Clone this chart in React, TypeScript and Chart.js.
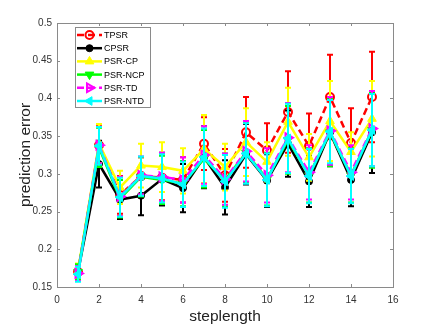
import React, { useEffect, useRef } from 'react';
import { Chart, registerables } from 'chart.js';
import { drawPoint } from 'chart.js/helpers';

Chart.register(...registerables);

// ---------- data ----------
const steps = [1, 2, 3, 4, 5, 6, 7, 8, 9, 10, 11, 12, 13, 14, 15];
const xTicks = [0, 2, 4, 6, 8, 10, 12, 14, 16];
const yTicks = [0.15, 0.2, 0.25, 0.3, 0.35, 0.4, 0.45, 0.5];
const seriesNames = ['TPSR', 'CPSR', 'PSR-CP', 'PSR-NCP', 'PSR-TD', 'PSR-NTD'];

const tpsr = [0.17, 0.338, 0.272, 0.297, 0.295, 0.292, 0.34, 0.298, 0.355, 0.331, 0.382, 0.337, 0.402, 0.341, 0.402];
const tpsrErr = [0.01, 0.025, 0.025, 0.025, 0.03, 0.03, 0.035, 0.035, 0.047, 0.036, 0.054, 0.043, 0.056, 0.046, 0.06];

const cpsr = [0.17, 0.313, 0.266, 0.271, 0.293, 0.281, 0.322, 0.282, 0.326, 0.291, 0.34, 0.29, 0.355, 0.292, 0.355];
const cpsrErr = [0.01, 0.031, 0.026, 0.026, 0.035, 0.032, 0.041, 0.036, 0.04, 0.035, 0.044, 0.034, 0.045, 0.035, 0.054];

const psrCp = [0.171, 0.34, 0.282, 0.311, 0.309, 0.304, 0.333, 0.309, 0.342, 0.316, 0.369, 0.322, 0.37, 0.329, 0.373];
const psrCpErr = [0.01, 0.026, 0.022, 0.029, 0.033, 0.03, 0.045, 0.031, 0.045, 0.026, 0.045, 0.031, 0.053, 0.026, 0.05];

const psrNcp = [0.17, 0.335, 0.267, 0.296, 0.292, 0.287, 0.32, 0.292, 0.328, 0.293, 0.345, 0.298, 0.355, 0.298, 0.358];
const psrNcpErr = [0.01, 0.026, 0.025, 0.026, 0.032, 0.03, 0.038, 0.035, 0.04, 0.035, 0.045, 0.036, 0.045, 0.036, 0.05];

const psrTd = [0.168, 0.338, 0.27, 0.298, 0.296, 0.292, 0.325, 0.293, 0.33, 0.298, 0.348, 0.302, 0.357, 0.302, 0.36];
const psrTdErr = [0.01, 0.024, 0.026, 0.025, 0.032, 0.03, 0.038, 0.034, 0.04, 0.036, 0.046, 0.036, 0.045, 0.036, 0.05];

const psrNtd = [0.167, 0.337, 0.269, 0.297, 0.294, 0.286, 0.322, 0.29, 0.327, 0.292, 0.347, 0.297, 0.356, 0.297, 0.358];
const psrNtdErr = [0.01, 0.025, 0.026, 0.026, 0.032, 0.03, 0.038, 0.035, 0.04, 0.035, 0.046, 0.036, 0.042, 0.036, 0.048];

const seriesValues = [tpsr, cpsr, psrCp, psrNcp, psrTd, psrNtd];
const seriesErrors = [tpsrErr, cpsrErr, psrCpErr, psrNcpErr, psrTdErr, psrNtdErr];

// ---------- styles ----------
const styles = [
  { color: '#ff0000', dash: [7, 4], pointStyle: 'circle', rotation: 0, radius: 4, hollow: true },
  { color: '#000000', dash: [], pointStyle: 'circle', rotation: 0, radius: 3.5, hollow: false },
  { color: '#ffff00', dash: [], pointStyle: 'triangle', rotation: 0, radius: 5, hollow: false },
  { color: '#00ff00', dash: [], pointStyle: 'triangle', rotation: 180, radius: 5, hollow: false },
  { color: '#ff00ff', dash: [7, 4], pointStyle: 'triangle', rotation: 90, radius: 5, hollow: true },
  { color: '#00ffff', dash: [], pointStyle: 'triangle', rotation: 270, radius: 5, hollow: false },
];

const FONT = "'Liberation Sans', Arial, Helvetica, sans-serif";

const errorBarPlugin = {
  id: 'errorBars',
  beforeDatasetDraw(chart: any, args: any) {
    const i = args.index;
    const st = styles[i];
    const vals = seriesValues[i];
    const errs = seriesErrors[i];
    const xs = chart.scales.x;
    const ys = chart.scales.y;
    const ctx = chart.ctx;
    ctx.save();
    ctx.strokeStyle = st.color;
    ctx.lineWidth = 2;
    ctx.setLineDash([]);
    steps.forEach((s, k) => {
      const x = xs.getPixelForValue(s);
      const yT = ys.getPixelForValue(vals[k] + errs[k]);
      const yB = ys.getPixelForValue(vals[k] - errs[k]);
      ctx.beginPath();
      ctx.moveTo(x, yT);
      ctx.lineTo(x, yB);
      ctx.moveTo(x - 3, yT);
      ctx.lineTo(x + 3, yT);
      ctx.moveTo(x - 3, yB);
      ctx.lineTo(x + 3, yB);
      ctx.stroke();
    });
    ctx.restore();
  },
};

const boxPlugin = {
  id: 'box',
  afterDraw(chart: any) {
    const { ctx, chartArea: a } = chart;
    const xs = chart.scales.x;
    const ys = chart.scales.y;
    ctx.save();
    ctx.strokeStyle = '#8a8a8a';
    ctx.lineWidth = 1;
    ctx.setLineDash([]);
    ctx.strokeRect(Math.round(a.left) + 0.5, Math.round(a.top) + 0.5, Math.round(a.right - a.left), Math.round(a.bottom - a.top));
    ctx.beginPath();
    xTicks.forEach((t) => {
      const x = Math.round(xs.getPixelForValue(t)) + 0.5;
      ctx.moveTo(x, a.bottom);
      ctx.lineTo(x, a.bottom - 3);
      ctx.moveTo(x, a.top);
      ctx.lineTo(x, a.top + 3);
    });
    yTicks.forEach((t) => {
      const y = Math.round(ys.getPixelForValue(t)) + 0.5;
      ctx.moveTo(a.left, y);
      ctx.lineTo(a.left + 3, y);
      ctx.moveTo(a.right, y);
      ctx.lineTo(a.right - 3, y);
    });
    ctx.stroke();
    ctx.restore();
  },
};

const legendPlugin = {
  id: 'customLegend',
  afterDraw(chart: any) {
    const ctx = chart.ctx;
    const bx = 75.5, by = 27.5, bw = 75, bh = 80;
    ctx.save();
    ctx.fillStyle = '#ffffff';
    ctx.fillRect(bx, by, bw, bh);
    ctx.strokeStyle = '#8a8a8a';
    ctx.lineWidth = 1;
    ctx.strokeRect(bx, by, bw, bh);
    seriesNames.forEach((name, i) => {
      const st = styles[i];
      const y = 35 + i * 13.2;
      ctx.strokeStyle = st.color;
      ctx.lineWidth = 2.5;
      ctx.setLineDash(st.dash);
      ctx.beginPath();
      ctx.moveTo(77, y);
      ctx.lineTo(102, y);
      ctx.stroke();
      ctx.setLineDash([]);
      ctx.fillStyle = st.hollow ? 'rgba(0,0,0,0)' : st.color;
      ctx.strokeStyle = st.color;
      ctx.lineWidth = st.hollow ? 2 : 1;
      drawPoint(ctx, { pointStyle: st.pointStyle, rotation: st.rotation, radius: st.radius, borderWidth: ctx.lineWidth }, 89.5, y);
      ctx.fillStyle = '#000000';
      ctx.font = `9px ${FONT}`;
      ctx.textBaseline = 'middle';
      ctx.textAlign = 'left';
      ctx.fillText(name, 104, y + 0.5);
    });
    ctx.restore();
  },
};

export default function App() {
  const ref = useRef<HTMLCanvasElement | null>(null);
  useEffect(() => {
    if (!ref.current) return;
    const datasets = seriesNames.map((name, i) => {
      const st = styles[i];
      return {
        label: name,
        data: steps.map((s, k) => ({ x: s, y: seriesValues[i][k] })),
        borderColor: st.color,
        backgroundColor: st.hollow ? 'rgba(0,0,0,0)' : st.color,
        pointBorderColor: st.color,
        pointBackgroundColor: st.hollow ? 'rgba(0,0,0,0)' : st.color,
        borderWidth: 2.5,
        borderDash: st.dash,
        pointStyle: st.pointStyle,
        rotation: st.rotation,
        pointRadius: st.radius,
        pointBorderWidth: st.hollow ? 2 : 1,
        tension: 0,
        fill: false,
        order: seriesNames.length - i,
      };
    });
    const chart = new Chart(ref.current, {
      type: 'line',
      data: { datasets },
      plugins: [errorBarPlugin, boxPlugin, legendPlugin],
      options: {
        animation: false,
        responsive: false,
        events: [],
        layout: { padding: { top: 23, right: 43, left: 0, bottom: 0 } },
        plugins: { legend: { display: false }, tooltip: { enabled: false } },
        scales: {
          x: {
            type: 'linear',
            min: 0,
            max: 16,
            afterFit: (s: any) => { s.height = 44; },
            afterBuildTicks: (s: any) => { s.ticks = xTicks.map((v) => ({ value: v })); },
            grid: { display: false, drawTicks: false },
            border: { display: false },
            ticks: { padding: 7, color: '#333', font: { family: FONT, size: 10 }, callback: (v: any) => String(v), maxRotation: 0 },
            title: { display: true, text: 'steplength', color: '#222', font: { family: FONT, size: 15.5 }, padding: { top: 0, bottom: 5 } },
          },
          y: {
            type: 'linear',
            min: 0.15,
            max: 0.5,
            afterFit: (s: any) => { s.width = 57; },
            afterBuildTicks: (s: any) => { s.ticks = yTicks.map((v) => ({ value: v })); },
            grid: { display: false, drawTicks: false },
            border: { display: false },
            ticks: { padding: 5, color: '#333', font: { family: FONT, size: 10 }, callback: (v: any) => String(+Number(v).toFixed(2)) },
            title: { display: true, text: 'prediction error', color: '#222', font: { family: FONT, size: 15.5 }, padding: { top: 16, bottom: 0 } },
          },
        },
      },
    });
    return () => chart.destroy();
  }, []);
  return (
    <div style={{ position: 'absolute', left: 0, top: 0, width: 436, height: 331, background: '#fff' }}>
      <canvas ref={ref} width={436} height={331} style={{ display: 'block' }} />
    </div>
  );
}
